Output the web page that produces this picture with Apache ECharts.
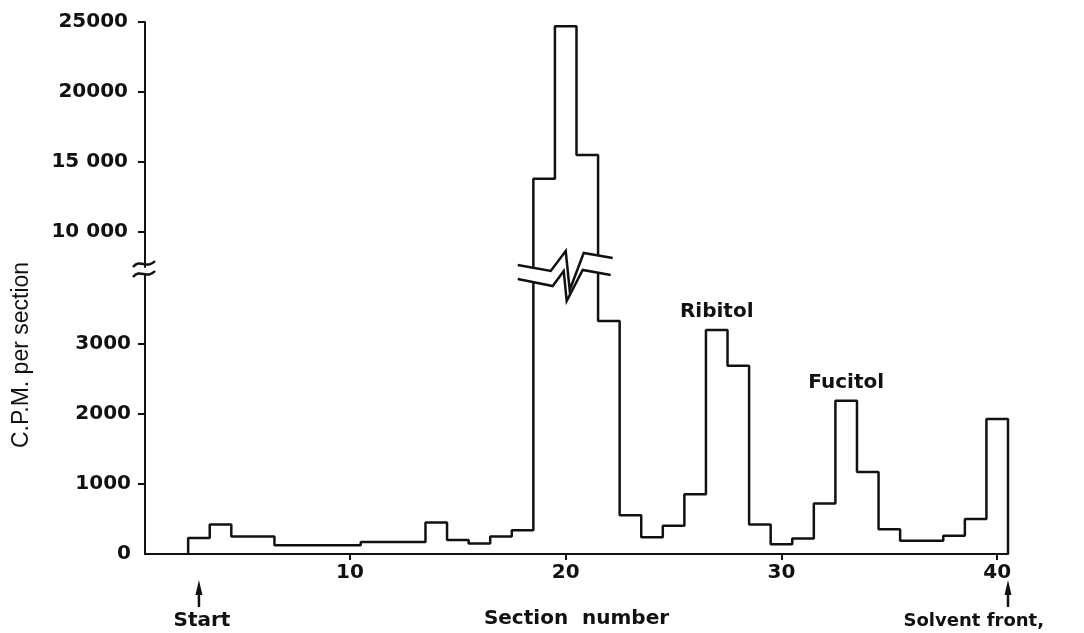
<!DOCTYPE html>
<html>
<head>
<meta charset="utf-8">
<title>C.P.M. per section</title>
<script src="https://cdn.jsdelivr.net/npm/echarts@6/dist/echarts.min.js"></script>
<style>
    html, body { margin: 0; padding: 0; background: #fff; }
    #chart { width: 1084px; height: 633px; }
</style>
</head>
<body>
<div id="chart"></div>
<script>
// counts, one value per section
var sections = [3, 4, 5, 6, 7, 8, 9, 10, 11, 12, 13, 14, 15, 16, 17, 18, 19, 20, 21, 22,
    23, 24, 25, 26, 27, 28, 29, 30, 31, 32, 33, 34, 35, 36, 37, 38, 39, 40];
var cpm = [230, 420, 250, 250, 125, 125, 125, 125, 170, 170, 170, 450, 200, 150, 250, 340, 13800, 24700, 15500, 3330,
    555, 240, 405, 855, 3200, 2690, 420, 140, 220, 720, 2190, 1170, 355, 190, 190, 260, 500, 1930];

var xTicks = [10, 20, 30, 40];
var lowerTicks = [0, 1000, 2000, 3000];
var upperTicks = [10000, 15000, 20000, 25000];
var upperTickLabels = ['10 000', '15 000', '20000', '25000'];

var peakNames = ['Ribitol', 'Fucitol'];
var peakSections = [27, 33];

var endNames = ['Start', 'Solvent front,'];
var endSections = [3, 40.5];

var ink = '#111';
var font = 'DejaVu Sans';

// histogram outline: each section is one unit wide, centred on its number
var steps = [[sections[0] - 0.5, 0]];
sections.forEach(function (s, i) {
    steps.push([s - 0.5, cpm[i]], [s + 0.5, cpm[i]]);
});
steps.push([sections[sections.length - 1] + 0.5, 0]);

var peaks = peakSections.map(function (s, i) {
    return [s, cpm[sections.indexOf(s)], i];
});

var lowerMax = 4000;
var breakSection = sections[cpm.indexOf(Math.max.apply(null, cpm))];

function rel(p, pts) {
    return pts.map(function (d) { return [p[0] + d[0], p[1] + d[1]]; });
}

function renderBreak(params, api) {
    var p = api.coord([api.value(0), api.value(1)]);
    if (api.value(2) === 0) {
        // zigzag band across the tall peak
        var up = rel(p, [[-48, -9], [-15, -3], [0, -23], [4, 16], [18, -21], [47, -16]]);
        var lo = rel(p, [[-48, 5], [-13, 12], [-2, -3], [1, 27], [17, -4], [45, 1]]);
        return {
            type: 'group',
            children: [
                {type: 'polygon', shape: {points: up.concat(lo.slice().reverse())}, style: {fill: '#fff'}},
                {type: 'polyline', shape: {points: up}, style: {stroke: ink, lineWidth: 2.5, fill: 'none'}},
                {type: 'polyline', shape: {points: lo}, style: {stroke: ink, lineWidth: 2.5, fill: 'none'}}
            ]
        };
    }
    // ≈ mark on the y axis
    var x = p[0], y = p[1];
    return {
        type: 'group',
        children: [
            {type: 'bezierCurve', shape: {x1: x - 12, y1: y - 7, cpx1: x - 5, cpy1: y - 16, cpx2: x + 2, cpy2: y - 4, x2: x + 10, y2: y - 13},
                style: {stroke: ink, lineWidth: 2.5, fill: 'none'}},
            {type: 'bezierCurve', shape: {x1: x - 12, y1: y + 3, cpx1: x - 5, cpy1: y - 6, cpx2: x + 2, cpy2: y + 6, x2: x + 10, y2: y - 3},
                style: {stroke: ink, lineWidth: 2.5, fill: 'none'}}
        ]
    };
}

function renderPeak(params, api) {
    var p = api.coord([api.value(0), api.value(1)]);
    return {
        type: 'text',
        x: p[0],
        y: p[1] - 18,
        style: {text: peakNames[api.value(2)], align: 'center', verticalAlign: 'middle',
            fontSize: 20, fontWeight: 'bold', fontFamily: font, fill: ink}
    };
}

function renderEnd(params, api) {
    var p = api.coord([api.value(0), 0]);
    var x = p[0], y = p[1];
    var last = params.dataIndex === endNames.length - 1;
    return {
        type: 'group',
        children: [
            {type: 'polygon', shape: {points: [[x, y + 26], [x - 3.5, y + 41], [x + 3.5, y + 41]]}, style: {fill: ink}},
            {type: 'line', shape: {x1: x, y1: y + 38, x2: x, y2: y + 53}, style: {stroke: ink, lineWidth: 2.5}},
            {type: 'text', x: last ? x + 36 : x + 3, y: y + 67,
                style: {text: endNames[params.dataIndex], align: last ? 'right' : 'center', verticalAlign: 'middle',
                    fontSize: last ? 18 : 20, fontWeight: 'bold', fontFamily: font, fill: ink}}
        ]
    };
}

var axisText = {fontSize: 20, fontWeight: 'bold', fontFamily: font, color: ink};

var myChart = echarts.init(document.getElementById('chart'));
var option = {
    animation: false,
    grid: [
        {left: 145, right: 76, top: 274, bottom: 79},
        {left: 145, right: 76, top: 22, bottom: 366}
    ],
    xAxis: [
        {
            gridIndex: 0,
            type: 'value',
            min: 0.5,
            max: 40.5,
            axisLine: {show: true, onZero: false, lineStyle: {color: ink, width: 2}},
            axisTick: {show: true, customValues: xTicks, length: 6, lineStyle: {color: ink, width: 2}},
            axisLabel: Object.assign({customValues: xTicks, margin: 9}, axisText),
            splitLine: {show: false},
            name: 'Section  number',
            nameLocation: 'middle',
            nameGap: 55,
            nameTextStyle: {fontSize: 20, fontWeight: 'bold', fontFamily: font, color: ink}
        },
        {gridIndex: 1, type: 'value', min: 0.5, max: 40.5, show: false}
    ],
    yAxis: [
        {
            gridIndex: 0,
            type: 'value',
            min: 0,
            max: lowerMax,
            axisLine: {show: true, lineStyle: {color: ink, width: 2}},
            axisTick: {show: true, customValues: lowerTicks.slice(1), length: 7, lineStyle: {color: ink, width: 2}},
            axisLabel: Object.assign({
                customValues: lowerTicks,
                margin: 14,
                formatter: function (v) { return String(v); }
            }, axisText),
            splitLine: {show: false}
        },
        {
            gridIndex: 1,
            type: 'value',
            min: 7500,
            max: 25000,
            axisLine: {show: true, lineStyle: {color: ink, width: 2}},
            axisTick: {show: true, customValues: upperTicks, length: 7, lineStyle: {color: ink, width: 2}},
            axisLabel: Object.assign({
                customValues: upperTicks,
                margin: 17,
                formatter: function (v) { return upperTickLabels[upperTicks.indexOf(v)]; }
            }, axisText),
            splitLine: {show: false}
        }
    ],
    series: [
        {
            type: 'line',
            xAxisIndex: 0,
            yAxisIndex: 0,
            data: steps,
            symbol: 'none',
            clip: true,
            lineStyle: {color: ink, width: 2.5}
        },
        {
            type: 'line',
            xAxisIndex: 1,
            yAxisIndex: 1,
            data: steps,
            symbol: 'none',
            clip: true,
            lineStyle: {color: ink, width: 2.5}
        },
        {
            type: 'custom',
            xAxisIndex: 0,
            yAxisIndex: 0,
            clip: false,
            silent: true,
            renderItem: renderPeak,
            data: peaks
        },
        {
            type: 'custom',
            xAxisIndex: 0,
            yAxisIndex: 0,
            clip: false,
            z: 5,
            silent: true,
            renderItem: renderBreak,
            data: [[breakSection, lowerMax, 0], [0.5, lowerMax, 1]]
        },
        {
            type: 'custom',
            xAxisIndex: 0,
            yAxisIndex: 0,
            clip: false,
            silent: true,
            renderItem: renderEnd,
            data: endSections.map(function (s, i) { return [s, 0, i]; })
        }
    ],
    graphic: [
        {
            type: 'text',
            x: 22,
            y: 355,
            rotation: Math.PI / 2,
            style: {
                text: 'C.P.M. per section',
                align: 'center',
                verticalAlign: 'middle',
                fontSize: 23,
                fontFamily: 'Liberation Sans',
                fill: ink
            }
        }
    ]
};
myChart.setOption(option);
window.addEventListener('resize', function () {
    myChart.resize();
});
</script>
</body>
</html>
